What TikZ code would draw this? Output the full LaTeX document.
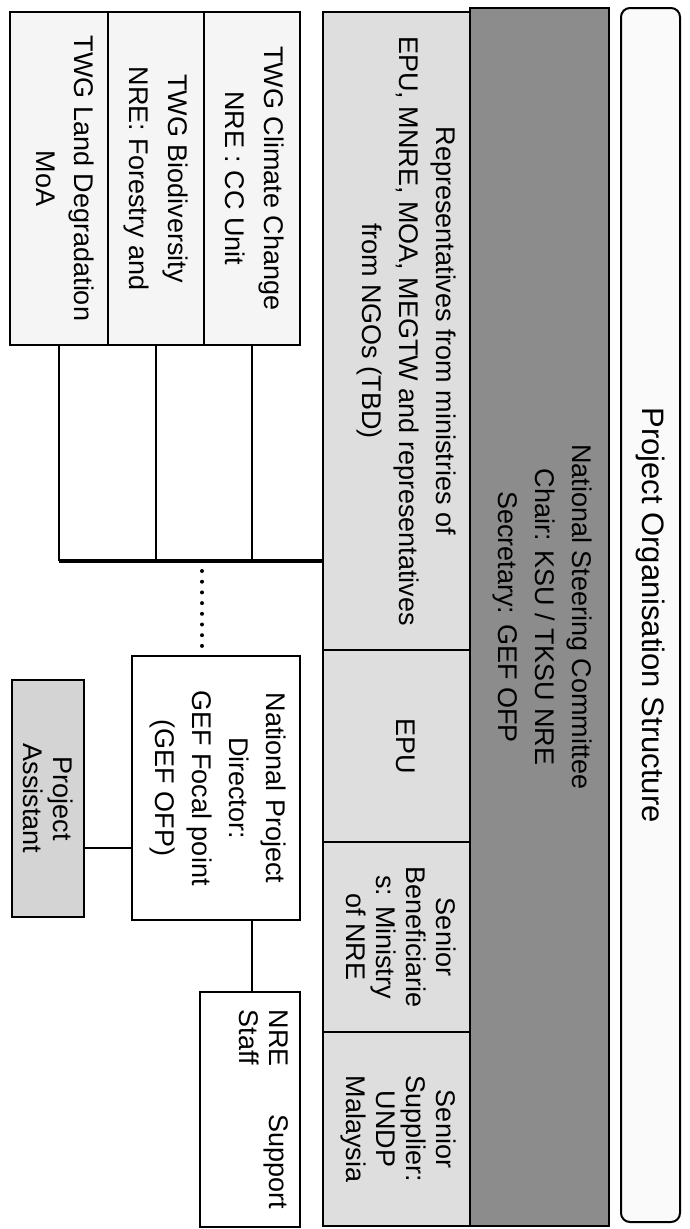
\documentclass[tikz,border=0pt]{standalone}
\usepackage{fontspec}
\setmainfont{Liberation Sans}
\usepackage{graphicx}
\usetikzlibrary{calc}
\definecolor{nscgray}{gray}{0.55}
\definecolor{rowgray}{gray}{0.87}
\definecolor{twggray}{gray}{0.96}
\definecolor{pagray}{gray}{0.83}
\definecolor{titlegray}{gray}{0.98}
\newcommand{\rtext}[2][38]{\rotatebox{-90}{\fontsize{27}{#1}\selectfont\begin{tabular}{@{}c@{}}#2\end{tabular}}}
\tikzset{
  bx/.style={draw=black, line width=1.6pt, inner sep=0pt, outer sep=0pt},
  conn/.style={draw=black, line width=1.4pt},
  dotline/.style={draw=black, line width=4pt, line cap=round, dash pattern=on 0pt off 10.7pt},
}
\begin{document}
\begin{tikzpicture}[x=1pt,y=-1pt]
\useasboundingbox (0,0) rectangle (689,1229);
% title
\node[bx, line width=2pt, rounded corners=9pt, fill=titlegray, minimum width=59pt, minimum height=1214pt] (title) at (650.5,615)
  {\rotatebox{-90}{\fontsize{31}{38}\selectfont Project Organisation Structure}};
% national steering committee
\node[bx, fill=nscgray, minimum width=139pt, minimum height=1218pt,
  label={[xshift=3pt]center:\rtext[37]{National Steering Committee\\Chair: KSU / TKSU NRE\\Secretary: GEF OFP}}] (nsc) at (539.5,617) {};
% row of members
\node[bx, fill=rowgray, minimum width=147pt, minimum height=638pt,
  label={[xshift=10pt]center:\rtext[37]{Representatives from ministries of\\EPU, MNRE, MOA, MEGTW and representatives\\from NGOs (TBD)}}] (rep) at (396.5,331) {};
\node[bx, fill=rowgray, minimum width=147pt, minimum height=192pt,
  label={[xshift=8pt]center:\rtext{EPU}}] (epu) at (396.5,746) {};
\node[bx, fill=rowgray, minimum width=147pt, minimum height=190pt,
  label={[xshift=1pt]center:\rtext[30]{Senior\\Beneficiarie\\s: Ministry\\of NRE}}] (sb) at (396.5,937) {};
\node[bx, fill=rowgray, minimum width=147pt, minimum height=194pt,
  label={[xshift=1pt]center:\rtext[30]{Senior\\Supplier:\\UNDP\\Malaysia}}] (ss) at (396.5,1129) {};
% technical working groups
\node[bx, fill=twggray, minimum width=96pt, minimum height=333pt,
  label={[xshift=1pt]center:\rtext[39]{TWG Climate Change\\NRE : CC Unit}}] (twga) at (252,178.5) {};
\node[bx, fill=twggray, minimum width=96pt, minimum height=333pt,
  label={[xshift=1pt]center:\rtext[39]{TWG Biodiversity\\NRE: Forestry and}}] (twgb) at (156,178.5) {};
\node[bx, fill=twggray, minimum width=98pt, minimum height=333pt,
  label={[xshift=4pt]center:\rtext[38]{TWG Land Degradation\\MoA}}] (twgc) at (59,178.5) {};
% project management
\node[bx, fill=white, minimum width=168pt, minimum height=264pt,
  label={[xshift=2pt]center:\rtext[37]{National Project\\Director:\\GEF Focal point\\(GEF OFP)}}] (npd) at (216,788) {};
\node[bx, line width=2pt, fill=pagray, minimum width=72pt, minimum height=237pt,
  label={[xshift=-3pt]center:\rtext[30]{Project\\Assistant}}] (pa) at (48,798.5) {};
\node[bx, fill=white, minimum width=100pt, minimum height=235pt,
  label={[xshift=10pt]center:\rotatebox{-90}{\fontsize{27}{30}\selectfont\begin{tabular}{@{}p{200pt}@{}}NRE\hfill Support\\Staff\end{tabular}}}] (nre) at (250,1109.5) {};
% connectors
\coordinate (busy) at (0,561);
\draw[line width=1.5pt] (twga.south) -- (twga.south |- busy);
\draw[line width=1.5pt] (twgb.south) -- (twgb.south |- busy);
\draw[line width=2.5pt] (twgc.south) -- (twgc.south |- busy);
\draw[line width=4pt] (twgc.south |- busy) -- (rep.west |- busy);
\coordinate (dx) at (202,0);
\draw[dotline] ($(dx |- busy)+(0,10)$) -- ($(npd.north -| dx)+(0,-10)$);
\coordinate (pay) at (0,848);
\draw[conn] (pa.east |- pay) -- (npd.west |- pay);
\coordinate (nx) at (252,0);
\draw[conn] (npd.south -| nx) -- (nre.north -| nx);
\end{tikzpicture}
\end{document}
